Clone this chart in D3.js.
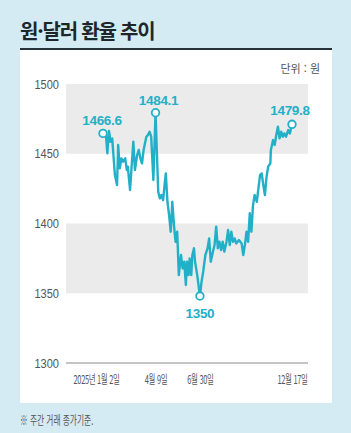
<!DOCTYPE html>
<html lang="ko">
<head>
<meta charset="UTF-8">
<title>원·달러 환율 추이</title>
<style>
  body { margin: 0; background: #d5ebf3; }
  svg { display: block; }
  .kr { font-family: "Noto Sans CJK KR", "Noto Sans", sans-serif; }
  .num { font-family: "Liberation Sans", Arial, sans-serif; }
</style>
</head>
<body>
<svg width="351" height="433"></svg>
<script src="https://d3js.org/d3.v7.min.js"></script>
<script>
// 주간 거래 종가
const dates = [
  "01-02","01-07","01-10","01-13","01-16","01-19","01-24","01-28","01-30","02-02",
  "02-05","02-08","02-12","02-15","02-17","02-18","02-21","02-24","02-27","03-02",
  "03-06","03-09","03-12","03-15","03-18","03-23","03-26","03-29","04-01","04-05",
  "04-09","04-14","04-17","04-20","04-23","04-26","04-28","05-01","05-04","05-07",
  "05-10","05-13","05-16","05-19","05-22","05-26","05-29","06-01","06-04","06-06",
  "06-09","06-11","06-14","06-16","06-19","06-21","06-25","06-30","07-03","07-06",
  "07-10","07-14","07-17","07-20","07-24","07-27","07-30","08-02","08-05","08-08",
  "08-11","08-14","08-18","08-21","08-24","08-27","08-30","09-02","09-05","09-10",
  "09-15","09-18","09-21","09-24","09-27","09-30","10-03","10-06","10-09","10-13",
  "10-16","10-19","10-22","10-25","10-28","10-31","11-03","11-07","11-08","11-12",
  "11-15","11-18","11-21","11-24","11-27","11-30","12-03","12-06","12-10","12-13",
  "12-17"
];
const values = [
  1464.6,1465.8,1450.3,1466.3,1458.6,1461.0,1434.7,1427.6,1456.3,1439.5,
  1446.7,1444.3,1446.7,1438.3,1440.7,1435.9,1424.0,1441.9,1458.6,1438.3,
  1449.1,1452.7,1446.7,1443.1,1452.7,1462.2,1463.4,1465.8,1462.2,1431.2,
  1479.4,1422.8,1418.0,1420.4,1416.8,1428.8,1435.9,1415.6,1406.1,1394.1,
  1415.6,1398.9,1386.9,1394.1,1363.0,1377.4,1367.8,1372.6,1355.9,1372.6,
  1363.0,1375.0,1363.0,1377.4,1382.2,1372.6,1363.0,1348.0,1358.3,1365.4,
  1377.4,1382.2,1389.3,1372.6,1379.8,1384.6,1397.7,1382.2,1386.9,1381.0,
  1386.9,1379.8,1386.9,1395.3,1384.6,1394.1,1386.9,1389.3,1385.7,1388.1,
  1385.7,1377.4,1384.6,1394.1,1386.9,1407.3,1394.1,1413.2,1420.4,1415.6,
  1425.2,1434.7,1435.9,1427.6,1420.4,1433.5,1440.7,1443.1,1452.7,1459.8,
  1456.3,1463.4,1469.4,1461.0,1465.8,1462.2,1464.6,1462.2,1467.0,1464.6,
  1471.1
];
const yTicks = [1300, 1350, 1400, 1450, 1500];
const xTickDates = ["01-02", "04-09", "06-30", "12-17"];
const xTickLabels = ["2025년 1월 2일", "4월 9일", "6월 30일", "12월 17일"];
const calloutDates = ["01-02", "04-09", "06-30", "12-17"];
const calloutTexts = ["1466.6", "1484.1", "1350", "1479.8"];

const parse = d3.timeParse("%Y-%m-%d");
const data = dates.map((d, i) => ({ date: parse("2025-" + d), value: values[i] }));

const svg = d3.select("svg");
const teal = "#22b0c8";
const plotLeft = 66, plotRight = 308;

// 배경
svg.append("rect").attr("width", 351).attr("height", 433).attr("fill", "#d5ebf3");
svg.append("rect").attr("x", 20).attr("y", 50).attr("width", 312).attr("height", 353).attr("fill", "#ffffff");
svg.append("rect").attr("x", 20).attr("y", 48).attr("width", 312).attr("height", 2).attr("fill", "#263238");

svg.append("text").attr("class", "kr")
  .attr("x", 20).attr("y", 39)
  .attr("font-size", 20).attr("font-weight", 700)
  .attr("letter-spacing", -1.2)
  .attr("fill", "#1d262b")
  .text("원·달러 환율 추이");

svg.append("text").attr("class", "kr")
  .attr("x", 320).attr("y", 73)
  .attr("text-anchor", "end")
  .attr("font-size", 11).attr("fill", "#555")
  .text("단위 : 원");

// 스케일
const x = d3.scaleTime()
  .domain([parse("2025-01-02"), parse("2025-12-17")])
  .range([103, 292]);
const y = d3.scaleLinear().domain([1300, 1500]).range([363, 84]);

// 회색 띠
const bands = [[1450, 1500], [1350, 1400]];
svg.append("g").selectAll("rect").data(bands).join("rect")
  .attr("x", plotLeft).attr("width", plotRight - plotLeft)
  .attr("y", d => y(d[1])).attr("height", d => y(d[0]) - y(d[1]))
  .attr("fill", "#ebebeb");

// 기준선
svg.append("line")
  .attr("x1", plotLeft).attr("x2", plotRight)
  .attr("y1", y(1300)).attr("y2", y(1300))
  .attr("stroke", "#8a8a8a").attr("stroke-width", 1);

// y축
const yAxis = svg.append("g").attr("transform", "translate(59,0)")
  .call(d3.axisLeft(y).tickValues(yTicks).tickFormat(d3.format("d")).tickSize(0).tickPadding(0));
yAxis.select(".domain").remove();
yAxis.selectAll("text")
  .attr("class", "num")
  .attr("font-size", 13).attr("fill", "#555")
  .attr("transform", "scale(0.85,1)");

// x축
const xAxis = svg.append("g").attr("transform", `translate(0,${y(1300)})`)
  .call(d3.axisBottom(x)
    .tickValues(xTickDates.map(d => parse("2025-" + d)))
    .tickFormat((d, i) => xTickLabels[i])
    .tickSize(0).tickPadding(12));
xAxis.select(".domain").remove();
xAxis.selectAll("text")
  .attr("class", "kr")
  .attr("font-size", 12).attr("fill", "#555")
  .attr("letter-spacing", -0.5)
  .attr("transform", (d, i) => `translate(${i === 0 ? -7 : 0},0) scale(0.62,1)`);

// 선
const line = d3.line().x(d => x(d.date)).y(d => y(d.value));
svg.append("path").datum(data)
  .attr("d", line)
  .attr("fill", "none")
  .attr("stroke", teal)
  .attr("stroke-width", 2.4)
  .attr("stroke-linejoin", "round");

// 표시점
const callouts = calloutDates.map((d, i) => {
  const p = data.find(e => e.date.getTime() === parse("2025-" + d).getTime());
  return { date: p.date, value: p.value, text: calloutTexts[i] };
});
const offsets = [[-1, -8], [3, -8], [0, 22], [-2, -9]];

svg.append("g").selectAll("circle").data(callouts).join("circle")
  .attr("cx", d => x(d.date)).attr("cy", d => y(d.value))
  .attr("r", 3.8)
  .attr("fill", "#fff").attr("stroke", teal).attr("stroke-width", 1.8);

svg.append("g").selectAll("text").data(callouts).join("text")
  .attr("class", "num")
  .attr("x", (d, i) => x(d.date) + offsets[i][0])
  .attr("y", (d, i) => y(d.value) + offsets[i][1])
  .attr("text-anchor", "middle")
  .attr("font-size", 13.5).attr("font-weight", 700)
  .attr("letter-spacing", -0.3)
  .attr("fill", teal)
  .text(d => d.text);

// 주석
svg.append("text").attr("class", "kr")
  .attr("transform", "translate(20,425) scale(0.62,1)")
  .attr("font-size", 12.5).attr("fill", "#555")
  .text("※ 주간 거래 종가기준.");
</script>
</body>
</html>
